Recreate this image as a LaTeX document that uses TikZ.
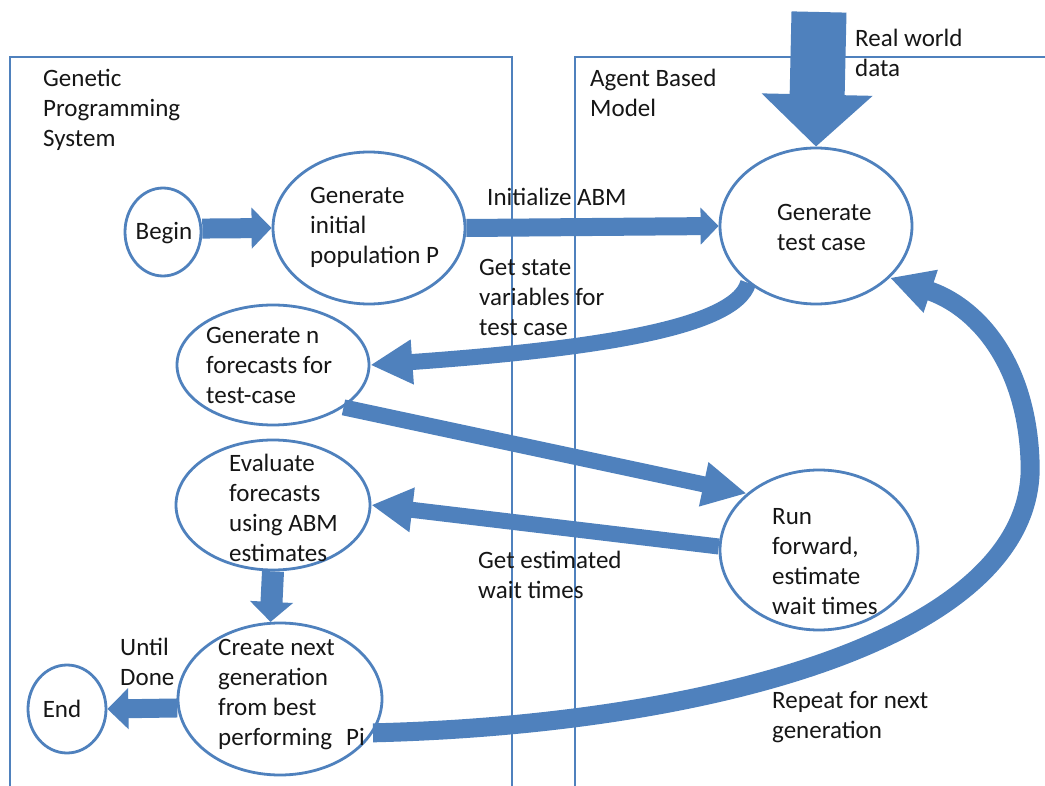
\documentclass[tikz,border=0pt]{standalone}
\usepackage{fontspec}
\setmainfont{Carlito}
\usetikzlibrary{arrows.meta,shapes.geometric}
\definecolor{obl}{HTML}{4F81BD}
\definecolor{ink}{HTML}{161616}
\tikzset{
  ell/.style={ellipse, draw=obl, line width=2.8pt, inner sep=0pt},
  txt/.style={text=ink, font=\fontsize{25}{30}\selectfont, align=left, anchor=west, inner sep=0pt},
  boxline/.style={draw=obl, line width=2.5pt},
  fatarrow/.style n args={3}{draw=obl, line width=#1, -{Triangle[width=#2,length=#3]}}
}
\begin{document}
\begin{tikzpicture}[x=1pt,y=-1pt]
\fill[white] (0,0) rectangle (1045,786);
\useasboundingbox (0,0) rectangle (1045,786);

% system boxes
\draw[boxline] (10,786) -- (10,57) -- (512,57) -- (512,786);
\draw[boxline] (575,786) -- (575,57) -- (1045,57);

% ellipses
\node[ell, minimum width=76pt, minimum height=88pt] (begin) at (163,232) {};
\node[ell, minimum width=192pt, minimum height=152pt] (geninit) at (369,228) {};
\node[ell, minimum width=192pt, minimum height=156pt] (gentest) at (816,226) {};
\node[ell, minimum width=192pt, minimum height=120pt] (genn) at (273,365) {};
\node[ell, minimum width=194pt, minimum height=130pt] (eval) at (273,505) {};
\node[ell, minimum width=198pt, minimum height=160pt] (run) at (819,550) {};
\node[ell, minimum width=204pt, minimum height=152pt] (create) at (280,699) {};
\node[ell, minimum width=78pt, minimum height=88pt] (endn) at (67,709) {};
\coordinate (rwd) at (819,12);

% texts inside ellipses
\node[txt, anchor=center] (begin-t) at (164,233) {Begin};
\node[txt] (geninit-t) at (310,227) {Generate\\initial\\population P};
\node[txt] (gentest-t) at (777,227) {Generate\\test case};
\node[txt] (genn-t) at (206,365) {Generate n\\forecasts for\\test-case};
\node[txt] (eval-t) at (229,508) {Evaluate\\forecasts\\using ABM\\estimates};
\node[txt] (run-t) at (772,562) {Run\\forward,\\estimate\\wait times};
\node[txt] (create-t) at (218,695) {Create next\\generation\\from best\\performing\hspace{14pt}Pi};
\node[txt, anchor=center] (end-t) at (62,709) {End};

% labels
\node[txt] (gps) at (43,110) {Genetic\\Programming\\System};
\node[txt] (abm) at (590,93) {Agent Based\\Model};
\node[txt] (rwdl) at (855,53) {Real world\\data};
\node[txt] (initl) at (487,197) {Initialize ABM};
\node[txt] (statel) at (479,297) {Get state\\variables for\\test case};
\node[txt] (waitl) at (478,575) {Get estimated\\wait times};
\node[txt] (untill) at (120,662) {Until\\Done};
\node[txt] (repl) at (772,717) {Repeat for next\\generation};

% connectors
\draw[fatarrow={55pt}{108pt}{52pt}] (rwd) -- (gentest.north);
\draw[fatarrow={20pt}{40pt}{20pt}] (begin.5) -- (geninit.west);
\draw[fatarrow={18pt}{36pt}{18pt}] (geninit.east) -- (gentest.west);
\draw[fatarrow={16pt}{42pt}{42pt}] (gentest.220) .. controls (735,330) and (580,350) .. (genn.east);
\draw[fatarrow={16pt}{42pt}{44pt}] (genn.-31) -- (run.142);
\draw[fatarrow={16pt}{42pt}{41pt}] (run.178) -- (eval.east);
\draw[fatarrow={22pt}{42pt}{20pt}] (eval.south) -- (create.97);
\draw[fatarrow={19pt}{40pt}{21pt}] (create.-175) -- (endn.east);
\draw[fatarrow={19pt}{42pt}{43pt}] (create.-20) .. controls (700,725) and (1040,640) .. (1030,460)
   .. controls (1026,360) and (975,306) .. (gentest.-35);
\end{tikzpicture}
\end{document}
